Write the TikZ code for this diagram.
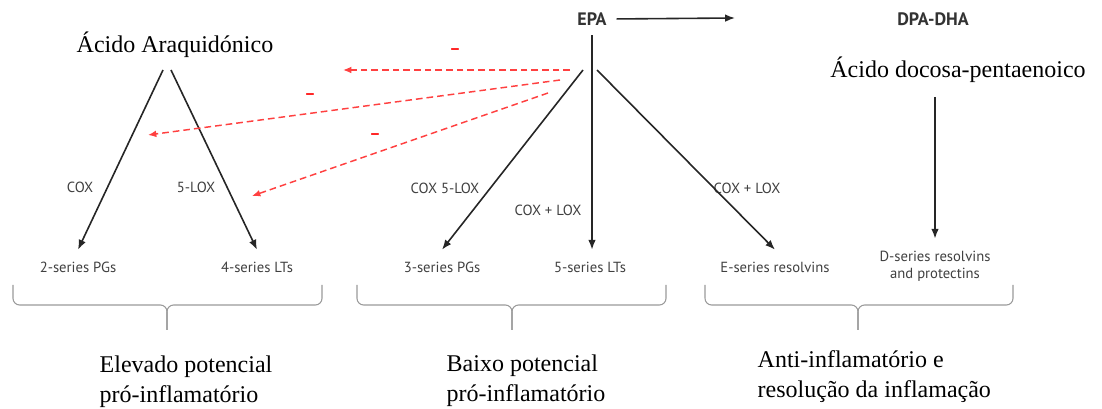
\documentclass[tikz,border=0pt]{standalone}
\usepackage{fontspec}
\setmainfont{Liberation Serif}
\newfontfamily\ptsans{PT Sans}
\usetikzlibrary{arrows.meta,positioning,calc}

\begin{document}
\begin{tikzpicture}[x=0.75pt, y=-0.75pt, every node/.style={font=\ptsans\fontsize{11}{13}\selectfont, text=black!75}, acid/.style={font=\fontsize{18}{20}\selectfont, text=black}, fam/.style={font=\ptsans\bfseries\fontsize{13.5}{15}\selectfont, text=black!80}, prod/.style={inner sep=1pt, outer sep=8pt, align=center}, enz/.style={inner sep=1pt}, effect/.style={anchor=base west, align=left, font=\fontsize{18}{22}\selectfont, text=black}, arrow/.style={-{Latex[length=2.6mm, width=2mm]}, line width=1.2pt, draw=black!85}, inhib/.style={-{Latex[length=2.2mm, width=1.8mm]}, line width=1.1pt, draw=red!75!white, dash pattern=on 5pt off 3pt}, minus/.style={inner sep=0pt, text=red!85, font=\ptsans\bfseries\fontsize{13}{13}\selectfont}, brace/.style={draw=black!40, line width=0.8pt, rounded corners=5}]
\useasboundingbox (0,0) rectangle (1102,409);
\node[acid] (aa) at (175,45) {Ácido Araquidónico};
\node[fam] (epa) at (592,19) {EPA};
\node[fam] (dha) at (933,19) {DPA-DHA};
\node[acid] (dpa) at (958,70) {Ácido docosa-pentaenoico};
\node[prod] (pg2) at (78,267) {2-series PGs};
\node[prod] (lt4) at (257,267) {4-series LTs};
\node[prod] (pg3) at (442,267) {3-series PGs};
\node[prod] (lt5) at (590,267) {5-series LTs};
\node[prod] (rve) at (775,267) {E-series resolvins};
\node[prod] (rvd) at (935,266) {D-series resolvins\\and protectins};
\node[enz] (cox1) at (80,187) {COX};
\node[enz] (lox1) at (196,187) {5-LOX};
\node[enz] (coxlox1) at (445,188) {COX 5-LOX};
\node[enz] (coxlox2) at (548,210) {COX + LOX};
\node[enz] (coxlox3) at (747,188) {COX + LOX};
\node[minus] (m1) at (455,52) {–};
\node[minus] (m2) at (310,97) {–};
\node[minus] (m3) at (375,137) {–};
\coordinate (aaL) at (163,70);
\coordinate (aaR) at (171,70);
\coordinate (epaL) at (583,70);
\coordinate (epaR) at (597,70);
\coordinate (dpaS) at (935,97);
\coordinate (epaTo) at (735,18);
\coordinate (i1s) at (570,70);
\coordinate (i1e) at (343,70);
\coordinate (i2s) at (560,80);
\coordinate (i2e) at (148,135);
\coordinate (i3s) at (548,93);
\coordinate (i3e) at (252,196);
\draw[arrow] (aaL) -- (pg2.north);
\draw[arrow] (aaR) -- (lt4.north);
\draw[arrow, shorten <=4pt] (epa.south) -- (epa.south |- lt5.north);
\draw[arrow] (epaL) -- (pg3.north);
\draw[arrow] (epaR) -- (rve.north);
\draw[arrow] (dpaS) -- (rvd.north);
\draw[arrow, shorten <=4pt] (epa.east) -- (epaTo);
\draw[inhib] (i1s) -- (i1e);
\draw[inhib] (i2s) -- (i2e);
\draw[inhib] (i3s) -- (i3e);
\draw[brace] (13,285) |- (167,305) -- (167,330);
\draw[brace] (322,285) |- (167,305) -- (167,330);
\draw[brace] (357,285) |- (512,305) -- (512,330);
\draw[brace] (666,285) |- (512,305) -- (512,330);
\draw[brace] (705,285) |- (858,305) -- (858,330);
\draw[brace] (1013,285) |- (858,305) -- (858,330);
\node[effect] (high) at (95,402) {Elevado potencial\\pró-inflamatório};
\node[effect] (low) at (442,401) {Baixo potencial\\pró-inflamatório};
\node[effect] (anti) at (753,397) {Anti-inflamatório e\\resolução da inflamação};
\end{tikzpicture}
\end{document}
